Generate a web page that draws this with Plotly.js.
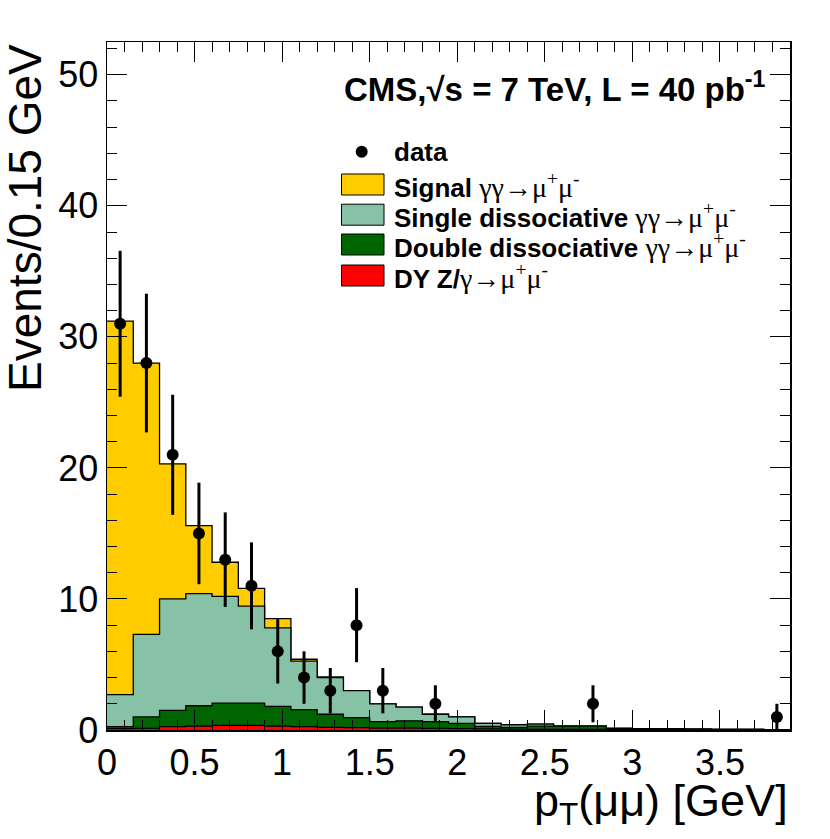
<!DOCTYPE html>
<html>
<head>
<meta charset="utf-8">
<script src="https://cdn.plot.ly/plotly-3.0.1.min.js"></script>
<style>
  body { margin: 0; background: #fff; }
  #chart { width: 830px; height: 839px; }
</style>
</head>
<body>
<div id="chart"></div>
<script>
// bin edges of the pT(mumu) histogram [GeV]
var binEdges = [0, 0.15, 0.3, 0.45, 0.6, 0.75, 0.9, 1.05, 1.2, 1.35, 1.5, 1.65, 1.8, 1.95,
                2.1, 2.25, 2.4, 2.55, 2.7, 2.85, 3.0, 3.15, 3.3, 3.45, 3.6, 3.75, 3.9];

// MC components (events / bin)
var signalVals = [28.5, 20.7, 10.3, 5.2, 2.6, 1.35, 0.7, 0.15, 0.05, 0, 0, 0, 0,
                  0, 0, 0, 0, 0, 0, 0, 0, 0, 0, 0, 0, 0];
var singleVals = [2.45, 6.3, 8.5, 8.55, 8.15, 7.4, 6.0, 3.7, 2.8, 2.05, 1.36, 1.05, 0.56,
                  0.5, 0.22, 0.2, 0.15, 0, 0, 0, 0, 0, 0, 0, 0, 0];
var doubleVals = [0.15, 0.88, 1.25, 1.55, 1.7, 1.7, 1.5, 1.3, 1.0, 0.77, 0.49, 0.55, 0.52,
                  0.4, 0.2, 0.14, 0.25, 0.25, 0.26, 0.09, 0.08, 0.06, 0.05, 0.04, 0.03, 0.02];
var dyVals = [0.1, 0.12, 0.25, 0.3, 0.35, 0.35, 0.3, 0.25, 0.2, 0.18, 0.15, 0.15, 0.12,
              0.1, 0.08, 0.06, 0.05, 0.05, 0.04, 0.03, 0.02, 0.02, 0.01, 0.01, 0.01, 0];

// observed events
var dataCounts = [31, 28, 21, 15, 13, 11, 6, 4, 3, 8, 3, 0, 2,
                  0, 0, 0, 0, 0, 2, 0, 0, 0, 0, 0, 0, 1];

var serif = 'style="font-family:Liberation Serif;font-weight:normal;font-size:28px"';
var proc = '<span ' + serif + '>γγ→μ<sup>+</sup>μ<sup>-</sup></span>';
var legendLabels = ['<b>Signal</b> ' + proc,
                    '<b>Single dissociative</b> ' + proc,
                    '<b>Double dissociative</b> ' + proc,
                    '<b>DY Z/</b><span ' + serif + '>γ→μ<sup>+</sup>μ<sup>-</sup></span>'];
var colors = ['#ffcc00', '#87c1a6', '#006400', '#ff0000'];

// stack from the bottom: dy, double, single, signal
function addUp(a, b) { return a.map(function (v, i) { return v + b[i]; }); }
var cumDy = dyVals.slice();
var cumDouble = addUp(cumDy, doubleVals);
var cumSingle = addUp(cumDouble, singleVals);
var cumTotal = addUp(cumSingle, signalVals);

function stepTrace(vals, color) {
  var y = vals.concat([vals[vals.length - 1]]);
  return {
    x: binEdges, y: y, type: 'scatter', mode: 'lines',
    line: {shape: 'hv', color: '#000', width: 1.3},
    fill: 'tozeroy', fillcolor: color,
    hoverinfo: 'skip', showlegend: false
  };
}

var centers = [], dataY = [], dataErr = [];
for (var i = 0; i < dataCounts.length; i++) {
  centers.push((binEdges[i] + binEdges[i + 1]) / 2);
  dataY.push(dataCounts[i] > 0 ? dataCounts[i] : null);
  dataErr.push(Math.sqrt(dataCounts[i]));
}

var traces = [
  stepTrace(cumTotal, colors[0]),
  stepTrace(cumSingle, colors[1]),
  stepTrace(cumDouble, colors[2]),
  stepTrace(cumDy, colors[3]),
  {
    x: centers, y: dataY, type: 'scatter', mode: 'markers',
    marker: {color: '#000', size: 12},
    error_y: {type: 'data', array: dataErr, visible: true, color: '#000', thickness: 3, width: 0},
    showlegend: false
  }
];

// pixel helpers for the plot frame (l=107, t=42, w=683, h=688)
function px(x) { return (x - 107) / 683; }
function py(y) { return (730 - y) / 688; }

var shapes = [], annotations = [];
var rowY = [184.5, 214.7, 244.5, 275.5];
for (var k = 0; k < 4; k++) {
  shapes.push({type: 'rect', xref: 'paper', yref: 'paper',
    x0: px(341.5), x1: px(384), y0: py(rowY[k] + 10.5), y1: py(rowY[k] - 10.5),
    fillcolor: colors[k], line: {color: '#000', width: 1}});
  annotations.push({xref: 'paper', yref: 'paper', x: px(392), y: py(rowY[k] + 1),
    xanchor: 'left', yanchor: 'middle', showarrow: false, text: legendLabels[k],
    font: {family: 'Liberation Sans', size: 26, color: '#000'}});
}
shapes.push({type: 'circle', xref: 'paper', yref: 'paper',
  x0: px(355.7), x1: px(367.7), y0: py(157.7), y1: py(145.7),
  fillcolor: '#000', line: {color: '#000', width: 0}});
annotations.push({xref: 'paper', yref: 'paper', x: px(392), y: py(152),
  xanchor: 'left', yanchor: 'middle', showarrow: false, text: '<b>data</b>',
  font: {family: 'Liberation Sans', size: 26, color: '#000'}});

annotations.push({xref: 'paper', yref: 'paper', x: px(768), y: py(87),
  xanchor: 'right', yanchor: 'middle', showarrow: false,
  text: '<b>CMS,√s = 7 TeV, L = 40 pb<sup>-1</sup></b>',
  font: {family: 'Liberation Sans', size: 33, color: '#000'}});

// axis titles, ROOT style (top / right aligned)
annotations.push({xref: 'paper', yref: 'paper', x: px(25), y: 1,
  xanchor: 'center', yanchor: 'top', showarrow: false, textangle: -90,
  text: 'Events/0.15 GeV', font: {family: 'Liberation Sans', size: 46, color: '#000'}});
annotations.push({xref: 'paper', yref: 'paper', x: 1, y: py(773),
  xanchor: 'right', yanchor: 'top', showarrow: false,
  text: 'p<sub>T</sub>(μμ) [GeV]', font: {family: 'Liberation Sans', size: 45, color: '#000'}});

var layout = {
  width: 830, height: 839,
  margin: {l: 107, r: 40, t: 42, b: 109},
  paper_bgcolor: '#fff', plot_bgcolor: '#fff',
  showlegend: false,
  font: {family: 'Liberation Sans', color: '#000'},
  xaxis: {
    range: [0, 3.9], dtick: 0.5, tick0: 0,
    ticks: 'inside', ticklen: 20, tickwidth: 1, tickcolor: '#000',
    minor: {dtick: 0.1, ticks: 'inside', ticklen: 10, tickwidth: 1, tickcolor: '#000', showgrid: false},
    showline: true, linecolor: '#000', linewidth: 1.5, mirror: 'allticks',
    showgrid: false, zeroline: false,
    tickfont: {family: 'Liberation Sans', size: 36, color: '#000'}
  },
  yaxis: {
    range: [0, 52.5], dtick: 10, tick0: 0,
    ticks: 'inside', ticklen: 20, tickwidth: 1, tickcolor: '#000',
    minor: {dtick: 2, ticks: 'inside', ticklen: 10, tickwidth: 1, tickcolor: '#000', showgrid: false},
    showline: true, linecolor: '#000', linewidth: 1.5, mirror: 'allticks',
    showgrid: false, zeroline: false,
    tickfont: {family: 'Liberation Sans', size: 36, color: '#000'}
  },
  shapes: shapes,
  annotations: annotations
};

Plotly.newPlot('chart', traces, layout, {displayModeBar: false, staticPlot: true});
</script>
</body>
</html>
